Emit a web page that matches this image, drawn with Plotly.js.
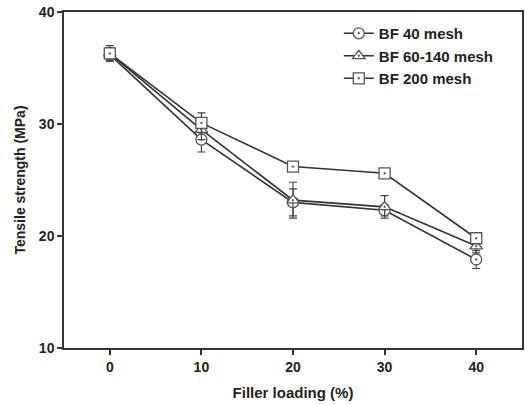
<!DOCTYPE html>
<html><head><meta charset="utf-8">
<script src="https://cdn.plot.ly/plotly-3.0.1.min.js"></script>
<style>html,body{margin:0;padding:0;background:#fff}#chart{width:525px;height:404px}</style>
</head><body><div id="chart"></div>
<script>
const fillerLoading = [0, 10, 20, 30, 40];
const seriesNames = ['BF 40 mesh', 'BF 60-140 mesh', 'BF 200 mesh'];
const bf40 = [36.2, 28.6, 23.0, 22.3, 17.9];
const bf40Err = [0.5, 1.1, 1.2, 0.5, 0.8];
const bf60 = [36.3, 29.5, 23.2, 22.6, 19.1];
const bf60Err = [0.5, 0.9, 1.6, 1.0, 0.6];
const bf200 = [36.3, 30.1, 26.2, 25.6, 19.8];
const bf200Err = [0.7, 0.9, 0.3, 0.3, 0.3];
const symbols = ['circle-dot', 'triangle-up-dot', 'square-dot'];

const ys = [bf40, bf60, bf200];
const errs = [bf40Err, bf60Err, bf200Err];
const traces = ys.map((y, i) => ({
  x: fillerLoading, y: y, name: seriesNames[i], type: 'scatter', mode: 'lines+markers',
  line: {color: '#333', width: 1.6},
  marker: {symbol: symbols[i], size: 11, color: '#fff', line: {color: '#555', width: 1.3}},
  error_y: {type: 'data', array: errs[i], visible: true, color: '#444', thickness: 1.2, width: 4}
}));

const fam = 'Liberation Sans, Arial, sans-serif';
Plotly.newPlot('chart', traces, {
  width: 525, height: 404,
  margin: {l: 64, r: 3, t: 12, b: 56},
  paper_bgcolor: '#fff', plot_bgcolor: '#fff',
  font: {family: fam, size: 13, color: '#222'},
  showlegend: true,
  legend: {x: 0.6, y: 0.985, xanchor: 'left', yanchor: 'top', bgcolor: 'rgba(0,0,0,0)',
    font: {family: fam, size: 15, color: '#222', weight: 'bold'}, tracegroupgap: 0},
  xaxis: {range: [-5, 45], tickvals: fillerLoading, ticks: 'outside', ticklen: 5, tickwidth: 1.5, tickcolor: '#333',
    showline: true, linecolor: '#333', linewidth: 1.5, mirror: true, showgrid: false, zeroline: false,
    tickfont: {family: fam, size: 14, weight: 'bold', color: '#222'},
    title: {text: 'Filler loading (%)', font: {family: fam, size: 15, weight: 'bold', color: '#222'}, standoff: 14}},
  yaxis: {range: [10, 40], tickvals: [10, 20, 30, 40], ticks: 'outside', ticklen: 5, tickwidth: 1.5, tickcolor: '#333',
    showline: true, linecolor: '#333', linewidth: 1.5, mirror: true, showgrid: false, zeroline: false,
    tickfont: {family: fam, size: 14, weight: 'bold', color: '#222'},
    title: {text: 'Tensile strength (MPa)', font: {family: fam, size: 14, weight: 'bold', color: '#222'}, standoff: 10}}
}, {displayModeBar: false});
</script></body></html>
